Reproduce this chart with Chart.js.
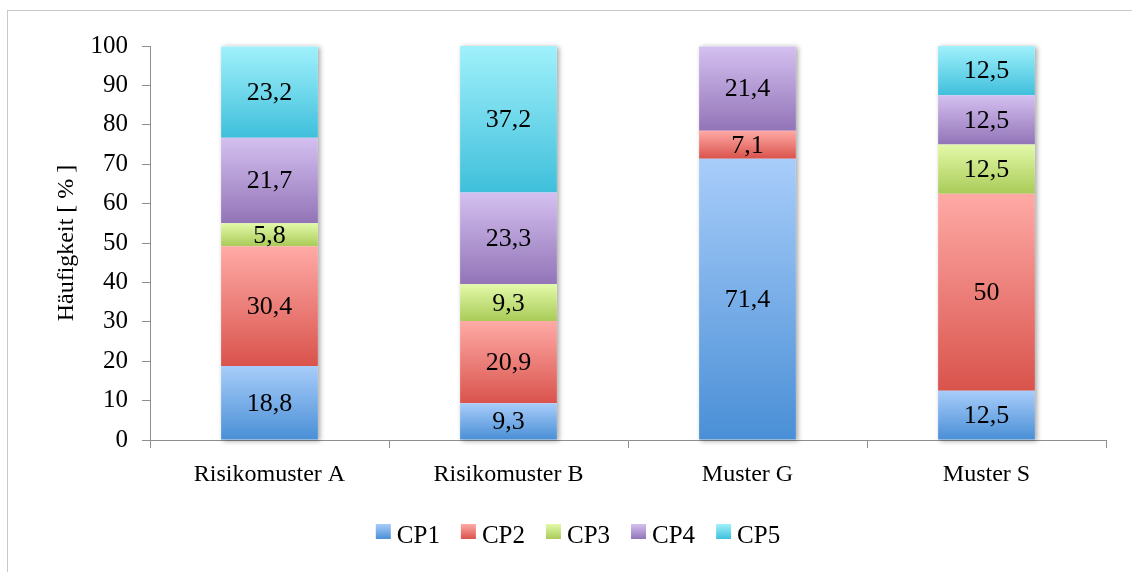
<!DOCTYPE html>
<html>
<head>
<meta charset="utf-8">
<script src="https://cdn.jsdelivr.net/npm/chart.js@4"></script>
<style>
  html, body { margin: 0; padding: 0; background: #fff; overflow: hidden; }
  #wrap { position: relative; width: 1132px; height: 572px; }
  #frame { position: absolute; left: 7px; top: 10px; width: 1200px; height: 600px; border: 1px solid #c8c8c8; }
  canvas { position: absolute; left: 0; top: 0; }
</style>
</head>
<body>
<div id="wrap">
  <div id="frame"></div>
  <canvas id="chart" width="1132" height="572"></canvas>
</div>
<script>
// Data
const categories = ['Risikomuster A', 'Risikomuster B', 'Muster G', 'Muster S'];
const seriesNames = ['CP1', 'CP2', 'CP3', 'CP4', 'CP5'];
const cp1 = [18.8, 9.3, 71.4, 12.5];
const cp2 = [30.4, 20.9, 7.1, 50];
const cp3 = [5.8, 9.3, null, 12.5];
const cp4 = [21.7, 23.3, 21.4, 12.5];
const cp5 = [23.2, 37.2, null, 12.5];
const yTicks = [0, 10, 20, 30, 40, 50, 60, 70, 80, 90, 100];

// gradient colours, top -> bottom
const gradColors = [
    ['#a8cdfa', '#4a8fd6'],
    ['#ffaaa6', '#d9534c'],
    ['#e3f9a9', '#a9cb58'],
    ['#d4c0f0', '#9274b7'],
    ['#a0f1fb', '#3fbfdb']
];

const FONT = "'Liberation Serif', 'Times New Roman', serif";
const AXIS = '#8e8e8e';

// Gradient fill + shadow behind each stack
const barStyle = {
    id: 'barStyle',
    beforeDatasetsDraw(chart) {
        const ctx = chart.ctx;
        const first = chart.getDatasetMeta(0).data;
        first.forEach((el, i) => {
            let top = el.base;
            chart.data.datasets.forEach((ds, d) => {
                const e = chart.getDatasetMeta(d).data[i];
                if (ds.data[i] != null) top = Math.min(top, e.y);
            });
            ctx.save();
            ctx.shadowColor = 'rgba(0,0,0,0.35)';
            ctx.shadowBlur = 5;
            ctx.shadowOffsetX = 2;
            ctx.shadowOffsetY = 1;
            ctx.fillStyle = '#ffffff';
            ctx.fillRect(el.x - el.width / 2, top, el.width, el.base - top);
            ctx.restore();
        });
        chart.data.datasets.forEach((ds, d) => {
            chart.getDatasetMeta(d).data.forEach(el => {
                if (el.base == null || el.y == null) return;
                const g = ctx.createLinearGradient(0, el.y, 0, el.base);
                g.addColorStop(0, gradColors[d][0]);
                g.addColorStop(1, gradColors[d][1]);
                el.options = Object.assign({}, el.options, { backgroundColor: g });
            });
        });
    }
};

// Values in the middle of each segment
const segLabels = {
    id: 'segLabels',
    afterDatasetsDraw(chart) {
        const ctx = chart.ctx;
        ctx.save();
        ctx.font = '26px ' + FONT;
        ctx.fillStyle = '#000';
        ctx.textAlign = 'center';
        ctx.textBaseline = 'middle';
        chart.data.datasets.forEach((ds, d) => {
            chart.getDatasetMeta(d).data.forEach((el, i) => {
                const v = ds.data[i];
                if (v == null) return;
                ctx.fillText(String(v).replace('.', ','), el.x, (el.y + el.base) / 2 + 1);
            });
        });
        ctx.restore();
    }
};

// Legend drawn by hand (box close to text, like the original)
const bottomLegend = {
    id: 'bottomLegend',
    afterDraw(chart) {
        const ctx = chart.ctx;
        ctx.save();
        ctx.font = '25px ' + FONT;
        const box = 15, gap = 6, itemGap = 21;
        const widths = seriesNames.map(n => ctx.measureText(n).width);
        const total = widths.reduce((a, w) => a + box + gap + w, 0) + itemGap * (seriesNames.length - 1);
        let x = 578 - total / 2;
        seriesNames.forEach((name, i) => {
            const g = ctx.createLinearGradient(0, 524, 0, 539);
            g.addColorStop(0, gradColors[i][0]);
            g.addColorStop(1, gradColors[i][1]);
            ctx.fillStyle = g;
            ctx.fillRect(x, 524, box, box);
            ctx.fillStyle = '#000';
            ctx.textBaseline = 'alphabetic';
            ctx.fillText(name, x + box + gap, 543);
            x += box + gap + widths[i] + itemGap;
        });
        ctx.restore();
    }
};

const seriesData = [cp1, cp2, cp3, cp4, cp5];

new Chart(document.getElementById('chart'), {
    type: 'bar',
    data: {
        labels: categories,
        datasets: seriesNames.map((name, i) => ({
            label: name,
            data: seriesData[i],
            backgroundColor: gradColors[i][1],
            borderWidth: 0,
            categoryPercentage: 0.5,
            barPercentage: 0.81
        }))
    },
    plugins: [barStyle, segLabels, bottomLegend],
    options: {
        responsive: false,
        animation: false,
        layout: { padding: { left: 0, right: 26, top: 46, bottom: 72 } },
        plugins: {
            tooltip: { enabled: false },
            legend: { display: false }
        },
        scales: {
            x: {
                stacked: true,
                grid: { offset: true, drawOnChartArea: false, tickLength: 8, color: AXIS },
                border: { color: AXIS, width: 1 },
                ticks: { font: { family: FONT, size: 24 }, color: '#000', padding: 12 },
                afterFit(scale) { scale.height = 60; }
            },
            y: {
                stacked: true,
                min: 0,
                max: 100,
                afterBuildTicks(scale) { scale.ticks = yTicks.map(v => ({ value: v })); },
                grid: { drawOnChartArea: false, tickLength: 8, color: AXIS },
                border: { color: AXIS, width: 1 },
                ticks: { font: { family: FONT, size: 25 }, color: '#000', padding: 14 },
                title: {
                    display: true,
                    text: 'Häufigkeit [ % ]',
                    font: { family: FONT, size: 24 },
                    color: '#000',
                    padding: { top: 52, bottom: 0 }
                },
                afterFit(scale) { scale.width = 150; }
            }
        }
    }
});
</script>
</body>
</html>
